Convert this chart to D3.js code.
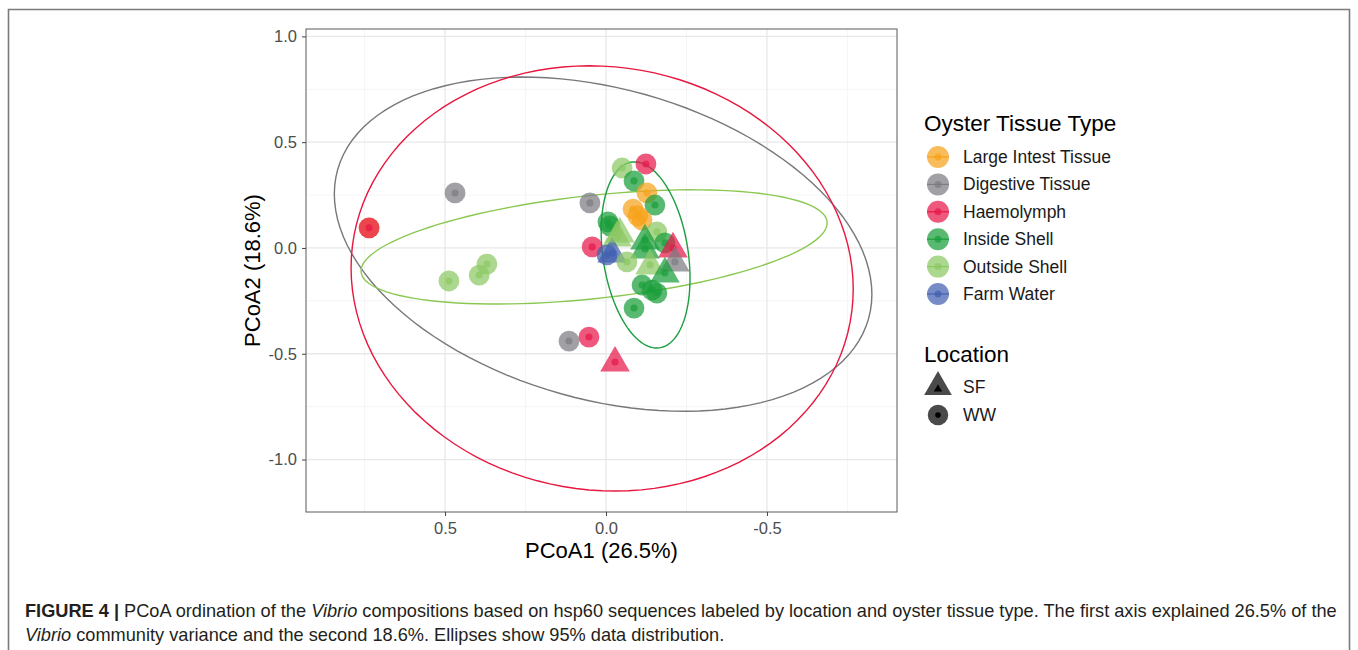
<!DOCTYPE html>
<html lang="en">
  <head>
    <meta charset="UTF-8" />
    <title>PCoA of Vibrio compositions</title>
    <script src="https://d3js.org/d3.v7.min.js"></script>
    <style>
      body { margin: 0; background: #fff; }
      text { font-family: "Liberation Sans", Arial, sans-serif; }
      .tick-label { font-size: 16.5px; fill: #4d4d4d; }
      .axis-title { font-size: 22px; fill: #000; }
      .legend-title { font-size: 22.5px; fill: #000; }
      .legend-label { font-size: 17.5px; fill: #1a1a1a; }
    </style>
  </head>
  <body>
    <svg id="canvas" width="1358" height="650"></svg>
    <script>
      // groups
      const tissues = ["Large Intest Tissue", "Digestive Tissue", "Haemolymph", "Inside Shell", "Outside Shell", "Farm Water"];
      const tissueColors = ["#F7A21B", "#7c7c82", "#E8184A", "#1B9E3A", "#8CC863", "#4360B0"];
      const locations = ["SF", "WW"];

      // samples
      const pcoa1 = [0.736, 0.736, 0.469, 0.488, 0.394, 0.370, 0.115, 0.053, -0.028, 0.050, 0.043,
        -0.050, -0.124, -0.087, -0.127, -0.152, -0.084, -0.099, -0.112, -0.006, -0.012,
        -0.034, -0.158, -0.121, -0.121, -0.183, -0.208, -0.214, -0.003, -0.019, -0.065,
        -0.137, -0.183, -0.112, -0.143, -0.158, -0.087, -0.043];
      const pcoa2 = [0.095, 0.095, 0.260, -0.156, -0.128, -0.076, -0.440, -0.421, -0.539, 0.213, 0.005,
        0.378, 0.397, 0.317, 0.260, 0.203, 0.184, 0.151, 0.132, 0.123, 0.104,
        0.052, 0.076, 0.038, -0.005, 0.024, 0.000, -0.066, -0.033, -0.024, -0.066,
        -0.080, -0.118, -0.175, -0.199, -0.213, -0.284, 0.071];
      const tissue = ["Large Intest Tissue", "Haemolymph", "Digestive Tissue", "Outside Shell", "Outside Shell", "Outside Shell", "Digestive Tissue", "Haemolymph", "Haemolymph", "Digestive Tissue", "Haemolymph",
        "Outside Shell", "Haemolymph", "Inside Shell", "Large Intest Tissue", "Inside Shell", "Large Intest Tissue", "Large Intest Tissue", "Large Intest Tissue", "Inside Shell", "Inside Shell",
        "Outside Shell", "Outside Shell", "Inside Shell", "Inside Shell", "Inside Shell", "Haemolymph", "Digestive Tissue", "Farm Water", "Farm Water", "Outside Shell",
        "Outside Shell", "Inside Shell", "Inside Shell", "Inside Shell", "Inside Shell", "Inside Shell", "Outside Shell"];
      const site = ["WW", "WW", "WW", "WW", "WW", "WW", "WW", "WW", "SF", "WW", "WW",
        "WW", "WW", "WW", "WW", "WW", "WW", "WW", "WW", "WW", "WW",
        "SF", "WW", "SF", "SF", "WW", "SF", "SF", "WW", "SF", "WW",
        "SF", "SF", "WW", "WW", "WW", "WW", "SF"];

      // 95% ellipses: centre, half extents, correlation
      const ellipseGroups = ["Digestive Tissue", "Haemolymph", "Outside Shell", "Inside Shell"];
      const ellipseCx = [0.009, 0.012, 0.037, -0.123];
      const ellipseCy = [0.018, -0.144, 0.005, -0.033];
      const ellipseRx = [0.835, 0.78, 0.724, 0.138];
      const ellipseRy = [0.79, 1.005, 0.27, 0.44];
      const ellipseRho = [0.30, 0.05, -0.42, 0.25];
      const ellipseColors = ["#77777c", "#E8173F", "#8BC852", "#1A9E3E"];

      const xTicks = [0.5, 0.0, -0.5];
      const xMinor = [0.75, 0.25, -0.25, -0.75];
      const yTicks = [1.0, 0.5, 0.0, -0.5, -1.0];
      const yMinor = [0.75, 0.25, -0.25, -0.75];

      const svg = d3.select("#canvas");
      const panel = { left: 306, right: 897, top: 29, bottom: 512 };

      const x = d3.scaleLinear().domain([0.932, -0.904]).range([panel.left, panel.right]);
      const y = d3.scaleLinear().domain([-1.248, 1.035]).range([panel.bottom, panel.top]);
      const color = d3.scaleOrdinal().domain(tissues).range(tissueColors);

      // figure frame
      svg.append("path")
        .attr("d", "M8.5,650 V9.5 H1349.5 V650")
        .attr("fill", "none").attr("stroke", "#7a7a7a").attr("stroke-width", 1.6);

      // grid
      const g = svg.append("g");
      g.selectAll(".xminor").data(xMinor).enter().append("line")
        .attr("x1", (d) => x(d)).attr("x2", (d) => x(d))
        .attr("y1", panel.top).attr("y2", panel.bottom)
        .attr("stroke", "#f3f3f3").attr("stroke-width", 0.8);
      g.selectAll(".yminor").data(yMinor).enter().append("line")
        .attr("y1", (d) => y(d)).attr("y2", (d) => y(d))
        .attr("x1", panel.left).attr("x2", panel.right)
        .attr("stroke", "#f3f3f3").attr("stroke-width", 0.8);
      g.selectAll(".xmajor").data(xTicks).enter().append("line")
        .attr("x1", (d) => x(d)).attr("x2", (d) => x(d))
        .attr("y1", panel.top).attr("y2", panel.bottom)
        .attr("stroke", "#e8e8e8").attr("stroke-width", 1.3);
      g.selectAll(".ymajor").data(yTicks).enter().append("line")
        .attr("y1", (d) => y(d)).attr("y2", (d) => y(d))
        .attr("x1", panel.left).attr("x2", panel.right)
        .attr("stroke", "#e8e8e8").attr("stroke-width", 1.3);

      // ellipses
      const steps = d3.range(0, 120).map((i) => (i / 120) * 2 * Math.PI);
      const ellLine = d3.line().curve(d3.curveLinearClosed);
      ellipseGroups.forEach((grp, i) => {
        const s = Math.sqrt(1 - ellipseRho[i] * ellipseRho[i]);
        const pts = steps.map((t) => [
          x(ellipseCx[i] + ellipseRx[i] * Math.cos(t)),
          y(ellipseCy[i] + ellipseRy[i] * (ellipseRho[i] * Math.cos(t) + s * Math.sin(t)))
        ]);
        svg.append("path").attr("d", ellLine(pts))
          .attr("fill", "none").attr("stroke", ellipseColors[i]).attr("stroke-width", 1.4);
      });

      // points
      const samples = pcoa1.map((v, i) => ({ x: pcoa1[i], y: pcoa2[i], tissue: tissue[i], loc: site[i] }));
      const triBig = d3.symbol().type(d3.symbolTriangle).size(380);
      const triSmall = d3.symbol().type(d3.symbolCircle).size(40);
      const circBig = d3.symbol().type(d3.symbolCircle).size(340);
      const circSmall = d3.symbol().type(d3.symbolCircle).size(40);

      const pts = svg.append("g").selectAll("g").data(samples).enter().append("g")
        .attr("transform", (d) => `translate(${x(d.x)},${y(d.y)})`);
      pts.append("path")
        .attr("d", (d) => (d.loc === "SF" ? triBig() : circBig()))
        .attr("transform", (d) => (d.loc === "SF" ? "translate(0,1)" : null))
        .attr("fill", (d) => color(d.tissue)).attr("fill-opacity", 0.72);
      pts.append("path")
        .attr("d", (d) => (d.loc === "SF" ? triSmall() : circSmall()))
        .attr("fill", (d) => color(d.tissue)).attr("fill-opacity", 0.72);

      // panel border
      svg.append("rect")
        .attr("x", panel.left).attr("y", panel.top)
        .attr("width", panel.right - panel.left).attr("height", panel.bottom - panel.top)
        .attr("fill", "none").attr("stroke", "#5a5a5a").attr("stroke-width", 1);

      // axes
      const xAxis = svg.append("g").attr("transform", `translate(0,${panel.bottom})`)
        .call(d3.axisBottom(x).tickValues(xTicks).tickFormat(d3.format(".1f")).tickSize(4).tickPadding(6));
      const yAxis = svg.append("g").attr("transform", `translate(${panel.left},0)`)
        .call(d3.axisLeft(y).tickValues(yTicks).tickFormat(d3.format(".1f")).tickSize(4).tickPadding(5));
      [xAxis, yAxis].forEach((a) => {
        a.select(".domain").remove();
        a.selectAll(".tick line").attr("stroke", "#444");
        a.selectAll(".tick text").attr("class", "tick-label").attr("font-family", null).attr("font-size", null)
          .text((d) => d3.format(".1f")(d).replace("−", "-"));
      });

      svg.append("text").attr("class", "axis-title")
        .attr("x", (panel.left + panel.right) / 2).attr("y", 558)
        .attr("text-anchor", "middle").text("PCoA1 (26.5%)");
      svg.append("text").attr("class", "axis-title")
        .attr("transform", `translate(260,${(panel.top + panel.bottom) / 2}) rotate(-90)`)
        .attr("text-anchor", "middle").text("PCoA2 (18.6%)");

      // legend: tissue
      const lx = 938;
      svg.append("text").attr("class", "legend-title").attr("x", 924).attr("y", 131).text("Oyster Tissue Type");
      const leg = svg.append("g").selectAll("g").data(tissues).enter().append("g")
        .attr("transform", (d, i) => `translate(${lx},${157 + i * 27.4})`);
      leg.append("circle").attr("r", 11).attr("fill", (d) => color(d)).attr("fill-opacity", 0.72);
      leg.append("line").attr("x1", -11).attr("x2", 11)
        .attr("stroke", (d) => color(d)).attr("stroke-width", 1.2);
      leg.append("circle").attr("r", 3.5).attr("fill", (d) => color(d)).attr("fill-opacity", 0.72);
      leg.append("text").attr("class", "legend-label").attr("x", 25).attr("y", 6).text((d) => d);

      // legend: location
      svg.append("text").attr("class", "legend-title").attr("x", 924).attr("y", 362).text("Location");
      const leg2 = svg.append("g").selectAll("g").data(locations).enter().append("g")
        .attr("transform", (d, i) => `translate(${lx},${387 + i * 28})`);
      leg2.append("path")
        .attr("d", (d) => (d === "SF" ? d3.symbol().type(d3.symbolTriangle).size(330)() : d3.symbol().type(d3.symbolCircle).size(330)()))
        .attr("fill", "#4a4a4a");
      leg2.append("path")
        .attr("d", (d) => (d === "SF" ? d3.symbol().type(d3.symbolTriangle).size(30)() : d3.symbol().type(d3.symbolCircle).size(25)()))
        .attr("transform", (d) => (d === "SF" ? "translate(0,2)" : null))
        .attr("fill", "#000");
      leg2.append("text").attr("class", "legend-label").attr("x", 25).attr("y", 6).text((d) => d);

      // caption
      const cap = svg.append("g").attr("fill", "#231f20")
        .style("font-family", "'Liberation Sans Narrow', 'Liberation Sans', Arial, sans-serif");
      const l1 = cap.append("text").attr("x", 25).attr("y", 617).attr("font-size", 15);
      l1.append("tspan").attr("font-weight", "bold").text("FIGURE 4 | ");
      l1.append("tspan").text("PCoA ordination of the ");
      l1.append("tspan").attr("font-style", "italic").text("Vibrio");
      l1.append("tspan").text(" compositions based on hsp60 sequences labeled by location and oyster tissue type. The first axis explained 26.5% of the");
      const l2 = cap.append("text").attr("x", 25).attr("y", 641).attr("font-size", 15);
      l2.append("tspan").attr("font-style", "italic").text("Vibrio");
      l2.append("tspan").text(" community variance and the second 18.6%. Ellipses show 95% data distribution.");
      const w = l1.node().getComputedTextLength();
      const fs = 15 * 1312 / w;
      l1.attr("font-size", fs);
      l2.attr("font-size", fs);
    </script>
  </body>
</html>
